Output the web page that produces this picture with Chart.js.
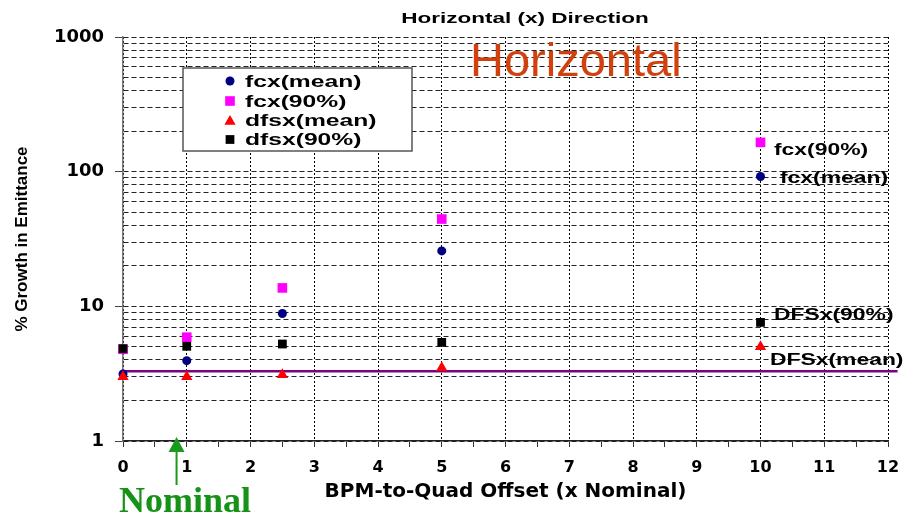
<!DOCTYPE html>
<html>
<head>
<meta charset="utf-8">
<script src="https://cdn.jsdelivr.net/npm/chart.js@4.4.1/dist/chart.umd.min.js"></script>
<style>
  html, body { margin: 0; padding: 0; background: #fff; }
  canvas { display: block; }
</style>
</head>
<body>
<canvas id="emittance-chart" width="903" height="517"></canvas>
<script>
// BPM-to-Quad offset (x nominal)
var offsets = [0, 1, 2.5, 5, 10]

// % growth in emittance
var fcxMean = [3.15, 3.95, 8.85, 25.8, 92]
var fcx90 = [4.8, 5.9, 13.7, 44.5, 165]
var dfsxMean = [3.0, 3.0, 3.1, 3.5, 5.0]
var dfsx90 = [4.85, 5.05, 5.25, 5.4, 7.6]

// purple reference level
var refLineX = [0, 12.15]
var refLineY = [3.3, 3.3]

var xTickLabels = [0, 1, 2, 3, 4, 5, 6, 7, 8, 9, 10, 11, 12]
var yTickLabels = [1, 10, 100, 1000]

var gridColor = '#222'
var tickFont = { family: 'DejaVu Sans', weight: 'bold' }

function pts (xs, ys) {
  return ys.map(function (y, i) { return { x: xs[i], y: y } })
}

// the source picture is stretched sideways, so text gets a horizontal scale
function wideText (ctx, text, x, y, font, color, align, sx) {
  ctx.save()
  ctx.font = font
  ctx.fillStyle = color
  ctx.textAlign = align
  ctx.textBaseline = 'alphabetic'
  ctx.translate(x, y)
  ctx.scale(sx, 1)
  ctx.fillText(text, 0, 0)
  ctx.restore()
}

var extras = {
  id: 'extras',
  afterDraw: function (chart) {
    var ctx = chart.ctx
    var xs = chart.scales.x
    var ys = chart.scales.y
    var sets = chart.data.datasets

    // title
    wideText(ctx, 'Horizontal (x) Direction', 525, 23, 'bold 15px "Liberation Sans"', '#000', 'center', 1.5)

    // big red label
    wideText(ctx, 'Horizontal', 470, 76, '47px "Liberation Sans"', '#d2400e', 'left', 1.0)

    // legend box
    ctx.save()
    ctx.fillStyle = '#fff'
    ctx.fillRect(183, 68, 229, 83)
    ctx.strokeStyle = '#555'
    ctx.lineWidth = 1.5
    ctx.strokeRect(183, 68, 229, 83)
    ctx.restore()
    var rows = [81, 101, 121.5, 139.5]
    var bases = [87, 107, 126, 145]
    for (var i = 0; i < 4; i++) {
      var ds = sets[i]
      ctx.save()
      ctx.fillStyle = ds.backgroundColor
      Chart.helpers.drawPoint(ctx, { pointStyle: ds.pointStyle, radius: ds.pointRadius, rotation: 0, borderWidth: 0 }, 230, rows[i])
      ctx.restore()
      wideText(ctx, ds.label, 245, bases[i], 'bold 17px "Liberation Sans"', '#000', 'left', 1.45)
    }

    // labels next to the x = 10 points
    var last = offsets.length - 1
    var notes = [
      { text: 'fcx(90%)', val: fcx90[last], dx: 13.5, dy: 12.8 },
      { text: 'fcx(mean)', val: fcxMean[last], dx: 19.5, dy: 6.6 },
      { text: 'DFSx(90%)', val: dfsx90[last], dx: 13.5, dy: -2.6 },
      { text: 'DFSx(mean)', val: dfsxMean[last], dx: 9.5, dy: 17.9 }
    ]
    var px = xs.getPixelForValue(offsets[last])
    notes.forEach(function (n) {
      wideText(ctx, n.text, px + n.dx, ys.getPixelForValue(n.val) + n.dy, 'bold 16px "Liberation Sans"', '#000', 'left', 1.43)
    })

    // nominal arrow
    var ax = xs.getPixelForValue(0.84)
    ctx.save()
    ctx.strokeStyle = '#1a9a1a'
    ctx.fillStyle = '#1a9a1a'
    ctx.lineWidth = 2
    ctx.beginPath()
    ctx.moveTo(ax, 450)
    ctx.lineTo(ax, 485)
    ctx.stroke()
    ctx.beginPath()
    ctx.moveTo(ax, 437)
    ctx.lineTo(ax - 8, 452)
    ctx.lineTo(ax + 8, 452)
    ctx.closePath()
    ctx.fill()
    ctx.restore()
    wideText(ctx, 'Nominal', 119, 512, 'bold 36px "Liberation Serif"', '#169216', 'left', 1.0)
  }
}

var ctx = document.getElementById('emittance-chart')

var chart = new Chart(ctx, {
  type: 'scatter',
  data: {
    datasets: [
      { label: 'fcx(mean)', data: pts(offsets, fcxMean), pointStyle: 'circle', pointRadius: 4.5, backgroundColor: '#000080', borderWidth: 0, clip: false, order: 3 },
      { label: 'fcx(90%)', data: pts(offsets, fcx90), pointStyle: 'rect', pointRadius: 6.8, backgroundColor: '#ff00ff', borderWidth: 0, clip: false, order: 4 },
      { label: 'dfsx(mean)', data: pts(offsets, dfsxMean), pointStyle: 'triangle', pointRadius: 6.5, backgroundColor: '#ff0000', borderWidth: 0, clip: false, order: 1 },
      { label: 'dfsx(90%)', data: pts(offsets, dfsx90), pointStyle: 'rect', pointRadius: 6.2, backgroundColor: '#000000', borderWidth: 0, clip: false, order: 2 },
      { label: 'ref', data: pts(refLineX, refLineY), showLine: true, pointRadius: 0, borderColor: '#800080', borderWidth: 2.5, clip: false, order: 5 }
    ]
  },
  options: {
    responsive: false,
    animation: false,
    events: [],
    layout: { padding: { top: 37, right: 15, left: 0, bottom: 0 } },
    plugins: {
      legend: { display: false },
      title: { display: false },
      tooltip: { enabled: false }
    },
    scales: {
      x: {
        type: 'linear',
        min: 0,
        max: 12,
        afterFit: function (s) {
          s.height = 76
          s.paddingLeft = 0
          s.paddingRight = 0
        },
        ticks: {
          stepSize: 0.5,
          autoSkip: false,
          maxRotation: 0,
          padding: 11,
          color: '#000',
          font: Object.assign({ size: 16 }, tickFont),
          callback: function (v) { return xTickLabels.indexOf(v) >= 0 ? String(v) : '' }
        },
        grid: {
          color: function (c) { return xTickLabels.indexOf(c.tick.value) >= 0 ? '#000' : 'rgba(0,0,0,0)' },
          tickColor: '#333',
          tickBorderDash: [],
          tickLength: 6,
          lineWidth: 1
        },
        border: { color: '#222', width: 1.5, dash: [2, 2] },
        title: {
          display: true,
          text: 'BPM-to-Quad Offset (x Nominal)',
          color: '#000',
          font: { family: 'DejaVu Sans', weight: 'bold', size: 20 },
          padding: { top: 0, bottom: 13 }
        }
      },
      y: {
        type: 'logarithmic',
        min: 1,
        max: 1000,
        afterFit: function (s) { s.width = 123 },
        afterBuildTicks: function (s) {
          // 1..9 in every decade, like the original minor grid
          var t = []
          for (var d = 0; d < yTickLabels.length - 1; d++) {
            for (var m = 1; m < 10; m++) t.push({ value: yTickLabels[d] * m })
          }
          t.push({ value: yTickLabels[yTickLabels.length - 1] })
          s.ticks = t
        },
        ticks: {
          autoSkip: false,
          padding: 11,
          color: '#000',
          font: Object.assign({ size: 18 }, tickFont),
          callback: function (v) { return yTickLabels.indexOf(v) >= 0 ? String(v) : '' }
        },
        grid: {
          color: gridColor,
          tickColor: function (c) { return yTickLabels.indexOf(c.tick.value) >= 0 ? '#444' : 'rgba(0,0,0,0)' },
          tickBorderDash: [],
          tickLength: 8,
          lineWidth: 1
        },
        border: { color: '#777', width: 1.5, dash: [5, 3] },
        title: {
          display: true,
          text: '% Growth in Emittance',
          color: '#000',
          font: { family: 'Liberation Sans', weight: 'bold', size: 17 },
          padding: { top: 12, bottom: 0 }
        }
      }
    }
  },
  plugins: [extras]
})
</script>
</body>
</html>
